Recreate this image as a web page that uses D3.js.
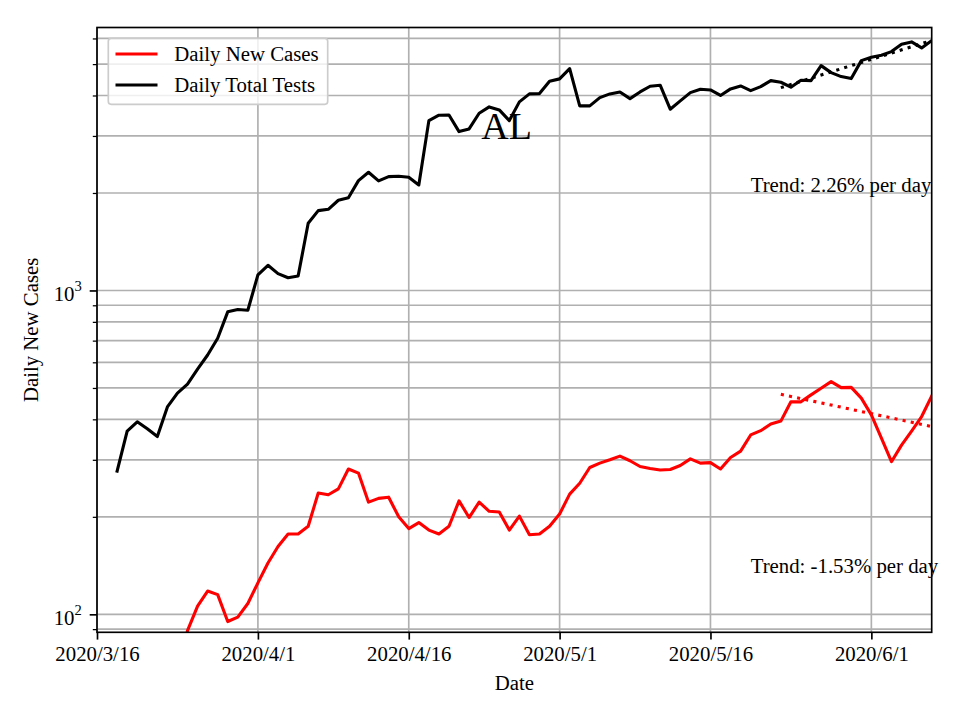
<!DOCTYPE html>
<html>
<head>
<meta charset="utf-8">
<script src="https://cdn.jsdelivr.net/npm/d3@7"></script>
<style>
  html, body { margin: 0; padding: 0; background: #fff; }
  svg { display: block; }
  text { font-family: "Liberation Serif", "Times New Roman", serif; fill: #000; }
</style>
</head>
<body>
<svg id="chart" width="960" height="720"></svg>
<script>
// ---------------- data ----------------
const xDomain = ["2020-03-16", "2020-06-07"];
const tickDates = ["2020-03-16", "2020-04-01", "2020-04-16", "2020-05-01", "2020-05-16", "2020-06-01"];
const tickLabels = ["2020/3/16", "2020/4/1", "2020/4/16", "2020/5/1", "2020/5/16", "2020/6/1"];
const yDomain = [88, 6486];
const yMajorTicks = [100, 1000];
const yMajorExponents = ["2", "3"];
const yMinorTicks = [90, 200, 300, 400, 500, 600, 700, 800, 900, 2000, 3000, 4000, 5000, 6000];

// Daily total tests, one value per day starting 2020-03-18
const testsStart = "2020-03-18";
const testsValues = [
  277, 368, 393, 374, 354, 437, 482, 514, 572, 632, 712, 859, 873, 869,
  1117, 1196, 1127, 1095, 1108, 1612, 1764, 1781, 1899, 1934, 2183, 2317, 2179, 2246, 2252, 2236, 2117,
  3345, 3476, 3483, 3094, 3154, 3526, 3688, 3610, 3345, 3822, 4045, 4054, 4428, 4501, 4842,
  3714, 3714, 3939, 4045, 4102, 3911, 4102, 4272, 4303, 3628, 3849, 4082, 4182, 4161, 4001, 4191,
  4281, 4141, 4260, 4446, 4395, 4242, 4459, 4446, 4946, 4706, 4575, 4510, 5125, 5250, 5326, 5464,
  5760, 5855, 5611, 5909
];

// Daily new cases, one value per day starting 2020-03-24
const casesStart = "2020-03-24";
const casesValues = [
  65, 89, 106, 118, 115, 95, 98, 108, 125, 144, 162, 177, 177, 187, 237, 234, 244, 281, 273,
  222, 228, 230, 200, 184, 192, 182, 177, 187, 224, 199, 222, 208, 207, 182, 201, 176, 177, 187,
  204, 235, 254, 284, 293, 300, 308, 298, 286, 282, 279, 280, 288, 302, 293, 294, 281, 305, 319,
  358, 369, 387, 395, 453, 453, 476, 499, 523, 501, 502, 465, 413, 350, 296, 333, 368, 408, 472
];

// Exponential trend fits (end points on the log scale)
const trendDates = ["2020-05-23", "2020-06-07"];
const testsTrend = [4230, 5914];
const casesTrend = [478, 380];
const testsTrendLabel = "Trend: 2.26% per day";
const casesTrendLabel = "Trend: -1.53% per day";
const trendLabelDate = "2020-05-20";
const testsTrendLabelValue = 2020;
const casesTrendLabelValue = 134.5;

const seriesNames = ["Daily New Cases", "Daily Total Tests"];
const seriesColors = ["#ff0000", "#000000"];
const title = "AL";
const xTitle = "Date";
const yTitle = "Daily New Cases";

// ---------------- helpers ----------------
const parse = s => { const [y, m, d] = s.split("-").map(Number); return new Date(Date.UTC(y, m - 1, d)); };
const seriesPoints = (start, vals) => vals.map((v, i) => ({ date: d3.utcDay.offset(parse(start), i), value: v }));

// ---------------- layout ----------------
const L = 97, R = 931.7, T = 27.5, B = 632.3;
const svg = d3.select("#chart");
svg.append("rect").attr("width", 960).attr("height", 720).attr("fill", "#fff");

const x = d3.scaleUtc().domain(xDomain.map(parse)).range([L, R]);
const y = d3.scaleLog().domain(yDomain).range([B, T]);

svg.append("defs").append("clipPath").attr("id", "clip")
  .append("rect").attr("x", L).attr("y", T).attr("width", R - L).attr("height", B - T);

// grid
const grid = svg.append("g").attr("stroke", "#b0b0b0").attr("stroke-width", 1.67);
grid.selectAll("line.v").data(tickDates).join("line")
  .attr("x1", d => x(parse(d))).attr("x2", d => x(parse(d)))
  .attr("y1", T).attr("y2", B);
grid.selectAll("line.h").data(yMajorTicks.concat(yMinorTicks)).join("line")
  .attr("x1", L).attr("x2", R)
  .attr("y1", d => y(d)).attr("y2", d => y(d));

// lines
const plot = svg.append("g").attr("clip-path", "url(#clip)");
const line = d3.line().x(d => x(d.date)).y(d => y(d.value));

plot.append("path").datum(seriesPoints(casesStart, casesValues))
  .attr("d", line).attr("fill", "none").attr("stroke", seriesColors[0])
  .attr("stroke-width", 3.1).attr("stroke-linejoin", "round").attr("stroke-linecap", "square");
plot.append("path").datum(seriesPoints(testsStart, testsValues))
  .attr("d", line).attr("fill", "none").attr("stroke", seriesColors[1])
  .attr("stroke-width", 3.1).attr("stroke-linejoin", "round").attr("stroke-linecap", "square");

const trendPts = vals => vals.map((v, i) => ({ date: parse(trendDates[i]), value: v }));
plot.append("path").datum(trendPts(casesTrend))
  .attr("d", line).attr("fill", "none").attr("stroke", seriesColors[0])
  .attr("stroke-width", 3.1).attr("stroke-dasharray", "3.1,5.2");
plot.append("path").datum(trendPts(testsTrend))
  .attr("d", line).attr("fill", "none").attr("stroke", seriesColors[1])
  .attr("stroke-width", 3.1).attr("stroke-dasharray", "3.1,5.2");

// axes
const xAxis = d3.axisBottom(x).tickValues(tickDates.map(parse))
  .tickFormat((d, i) => tickLabels[i]).tickSizeOuter(0).tickSize(7.3).tickPadding(6.6);
const gx = svg.append("g").attr("transform", `translate(0,${B})`).call(xAxis);
gx.select(".domain").remove();
gx.selectAll(".tick line").attr("stroke", "#000").attr("stroke-width", 1.67);
gx.selectAll(".tick text").attr("font-size", "20.8px")
  .attr("font-family", '"Liberation Serif", "Times New Roman", serif').attr("fill", "#000");

const yMinorAxis = d3.axisLeft(y).tickValues(yMinorTicks).tickFormat("").tickSizeOuter(0).tickSize(4.2);
const gym = svg.append("g").attr("transform", `translate(${L},0)`).call(yMinorAxis);
gym.select(".domain").remove();
gym.selectAll(".tick line").attr("stroke", "#000").attr("stroke-width", 1.25);

const yMajorAxis = d3.axisLeft(y).tickValues(yMajorTicks).tickFormat("").tickSizeOuter(0).tickSize(7.3);
const gyM = svg.append("g").attr("transform", `translate(${L},0)`).call(yMajorAxis);
gyM.select(".domain").remove();
gyM.selectAll(".tick line").attr("stroke", "#000").attr("stroke-width", 1.67);
gyM.selectAll(".tick").each(function (d, i) {
  const t = d3.select(this).append("text")
    .attr("x", -15.2).attr("y", 10).attr("text-anchor", "end")
    .attr("font-size", "20.8px").attr("fill", "#000");
  t.append("tspan").text("10");
  t.append("tspan").attr("font-size", "14.6px").attr("dy", "-10").text(yMajorExponents[i]);
});

// spines
svg.append("rect").attr("x", L).attr("y", T).attr("width", R - L).attr("height", B - T)
  .attr("fill", "none").attr("stroke", "#000").attr("stroke-width", 1.67);

// texts
svg.append("text").attr("x", (L + R) / 2).attr("y", 690).attr("text-anchor", "middle")
  .attr("font-size", "20.8px").text(xTitle);
svg.append("text").attr("transform", `translate(37.5,${(T + B) / 2}) rotate(-90)`)
  .attr("text-anchor", "middle").attr("font-size", "20.8px").text(yTitle);
svg.append("text").attr("x", 506.7).attr("y", 138.5).attr("text-anchor", "middle")
  .attr("font-size", "38px").text(title);

svg.append("text").attr("x", x(parse(trendLabelDate))).attr("y", y(testsTrendLabelValue))
  .attr("font-size", "20.8px").text(testsTrendLabel);
svg.append("text").attr("x", x(parse(trendLabelDate))).attr("y", y(casesTrendLabelValue))
  .attr("font-size", "20.8px").text(casesTrendLabel);

// legend
const lg = svg.append("g");
lg.append("rect").attr("x", 108.3).attr("y", 38.3).attr("width", 219.4).attr("height", 66)
  .attr("rx", 3).attr("fill", "#fff").attr("fill-opacity", 0.8)
  .attr("stroke", "#cccccc").attr("stroke-width", 1.67);
seriesNames.forEach((name, i) => {
  const yy = 54 + i * 31;
  lg.append("line").attr("x1", 115.5).attr("x2", 157.5).attr("y1", yy).attr("y2", yy)
    .attr("stroke", seriesColors[i]).attr("stroke-width", 3.1);
  lg.append("text").attr("x", 174.3).attr("y", yy + 7).attr("font-size", "20.8px").text(name);
});
</script>
</body>
</html>
